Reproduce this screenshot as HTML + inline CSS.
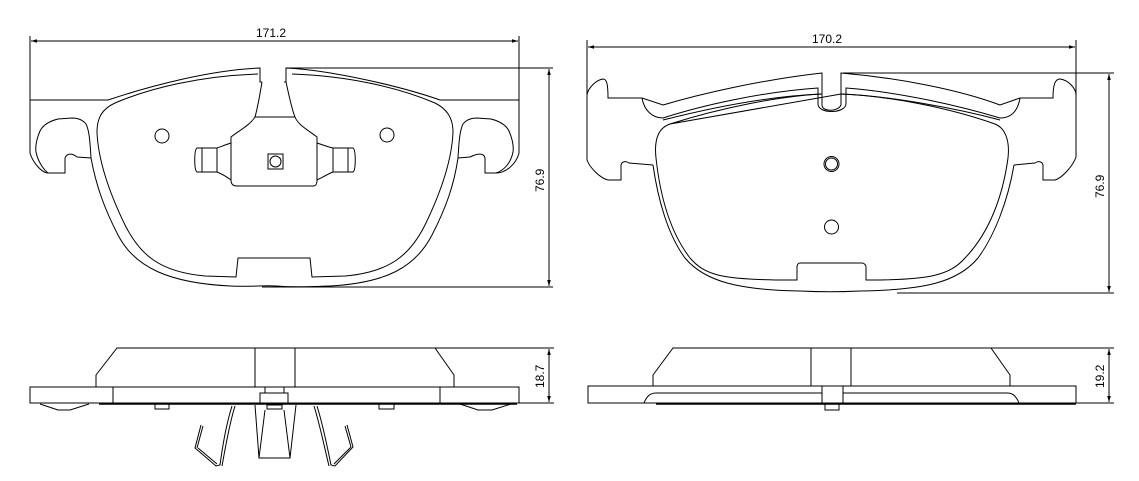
<!DOCTYPE html>
<html><head><meta charset="utf-8"><style>
html,body{margin:0;padding:0;background:#fff;}
svg{display:block;}
text{font-family:"Liberation Sans",sans-serif;font-size:12px;fill:#000;}
</style></head><body>
<svg width="1139" height="481" viewBox="0 0 1139 481" xmlns="http://www.w3.org/2000/svg" fill="none" stroke="#000" stroke-width="1">
<defs>
<marker id="a" viewBox="0 0 10 10" refX="10" refY="5" markerWidth="8" markerHeight="6" orient="auto-start-reverse"><path d="M0,2 L10,5 L0,8 z" fill="#000" stroke="none"/></marker>
</defs>

<!-- ===== LEFT TOP VIEW ===== -->
<line x1="30" y1="36" x2="30" y2="100"/>
<line x1="519" y1="36" x2="519" y2="100"/>
<line x1="31" y1="41" x2="518" y2="41" marker-start="url(#a)" marker-end="url(#a)"/>
<text x="256" y="37" stroke="none">171.2</text>
<line x1="286" y1="68" x2="553" y2="68"/>
<line x1="262" y1="287" x2="553" y2="287"/>
<line x1="549" y1="69" x2="549" y2="286" marker-start="url(#a)" marker-end="url(#a)"/>
<text transform="translate(544,192) rotate(-90)" stroke="none">76.9</text>

<path d="M30,100 L108,100 C150,86 210,70 260,68 L260,82 L262,82 M284,82 L286,82 L286,68 C330,70 400,86 440,100 L519,100 L519,153 C516,165 505,173 496,173 L485,173 L485,158 C484,153 478,153 470,157 L458,158"/>
<path d="M30,100 L30,153 C33,163 42,173 48,173 L65,173 L65,158 C67,153 72,153 77,157 L91,158"/>
<path d="M91,158 C90,140 89,130 86,124 C82,119 76,118 72,118 L58,119 C50,121 43,125 40,131 C37,138 35,145 36,152 C38,162 44,170 48,173"/>
<path d="M458,158 C459,140 460,130 463,124 C467,119 473,118 477,118 L491,119 C499,121 506,125 509,131 C512,138 514,145 513,152 C511,162 505,170 496,173"/>
<!-- pad loop -->
<path d="M258,74 C200,76 150,88 115,103 C102,109 97,118 97,132 C98,158 108,190 125,225 C140,255 160,272 205,276 L236,277 L238,258 L310,258 L312,277 L345,276 C390,272 410,255 425,225 C442,190 452,158 453,132 C453,118 447,109 435,103 C400,88 350,76 292,74"/>
<!-- backplate bottom -->
<path d="M91,158 C96,185 104,208 118,235 C135,268 170,283 230,286 C255,287 262,285 276,286 C290,287 300,287 330,286 C385,283 415,268 432,235 C446,208 454,185 458,158"/>
<!-- center spring plate -->
<path d="M262,82 C259,100 257,110 255,117 C250,125 240,130 231,137 L231,180 C231,184 233,186 237,186 L313,186 C316,186 317,184 317,180 L317,137 C308,130 298,125 295,117 C292,110 290,100 286,82"/>
<line x1="255" y1="117" x2="295" y2="117"/>
<path d="M231,143 C225,145 220,147 217,148 L197,148 C194,150 194,170 197,172 L217,172 C222,174 227,177 231,180"/>
<line x1="202" y1="148" x2="202" y2="172"/><line x1="217" y1="148" x2="217" y2="172"/>
<path d="M317,143 C323,145 328,147 333,148 L353,148 C356,150 356,170 353,172 L333,172 C328,174 323,177 317,180"/>
<line x1="348" y1="148" x2="348" y2="172"/><line x1="333" y1="148" x2="333" y2="172"/>
<rect x="268" y="154" width="15" height="15"/>
<circle cx="275.5" cy="161.5" r="5.5"/>
<circle cx="162" cy="136" r="7"/>
<circle cx="387" cy="135" r="7"/>

<!-- ===== RIGHT TOP VIEW ===== -->
<line x1="587" y1="40" x2="587" y2="160"/>
<line x1="1076" y1="40" x2="1076" y2="157"/>
<line x1="588" y1="47" x2="1075" y2="47" marker-start="url(#a)" marker-end="url(#a)"/>
<text x="812" y="43" stroke="none">170.2</text>
<line x1="843" y1="73" x2="1114" y2="73"/>
<line x1="897" y1="293" x2="1114" y2="293"/>
<line x1="1109" y1="74" x2="1109" y2="292" marker-start="url(#a)" marker-end="url(#a)"/>
<text transform="translate(1104,198) rotate(-90)" stroke="none">76.9</text>

<path d="M587,95 C588,88 596,80 603,79 C607,79 608,85 608,98 L642,98 L663,105 C700,94 760,80 822,73 L822,105 C822,112 838,112 841,105 L841,73 C900,78 960,90 1000,105 L1020,98 L1053,98 C1053,85 1055,79 1060,79 C1068,80 1076,88 1076,95 L1076,157 C1073,166 1062,178 1055,180 L1043,180 L1043,165 C1042,161 1038,161 1035,163 L1014,165"/>
<path d="M587,95 L587,160 C590,168 600,178 608,180 L621,180 L621,165 C622,161 626,161 629,163 L653,165"/>
<path d="M642,98 C644,110 652,118 663,118 C700,106 760,92 818,88 L818,104 C818,114 845,114 846,104 L846,88 C900,92 960,106 1000,118 C1012,118 1018,110 1020,98"/>
<path d="M822,94 C770,96 710,108 663,120"/>
<path d="M841,94 C890,96 955,108 1000,120"/>
<path d="M670,124 C720,108 780,96 822,94 M841,94 C890,96 950,108 995,124 C1005,128 1010,140 1008,158 C1003,195 990,232 965,258 C950,275 930,280 870,280 L866,280 L866,267 C866,265 864,263 862,263 L800,263 C798,263 797,265 797,267 L797,280 L790,280 C720,280 705,275 690,258 C670,232 660,195 656,158 C654,140 658,128 670,124 Z"/>
<!-- backplate bottom -->
<path d="M653,165 C658,200 668,235 685,258 C705,282 740,290 800,291 C820,292 840,292 860,291 C925,290 958,282 978,258 C995,235 1008,200 1014,165"/>
<circle cx="831.5" cy="164" r="7.5"/><circle cx="831.5" cy="164" r="6"/>
<circle cx="831.5" cy="227" r="7"/>

<!-- ===== LEFT SIDE VIEW ===== -->
<path d="M96,387 L96,375 L117,348 L435,348 L454,375 L454,387"/>
<line x1="435" y1="348" x2="554" y2="348"/>
<line x1="255" y1="348" x2="255" y2="387"/><line x1="295" y1="348" x2="295" y2="387"/>
<rect x="30" y="387" width="489" height="16"/>
<line x1="113" y1="387" x2="113" y2="403"/><line x1="440" y1="387" x2="440" y2="403"/>
<line x1="99" y1="404" x2="517" y2="404" stroke-width="1.6"/>
<line x1="519" y1="403" x2="554" y2="403"/>
<path d="M40,404 L58,410 L70,410 L89,404"/>
<path d="M460,404 L478,410 L492,410 L511,404"/>
<rect x="155" y="404" width="14" height="5"/><rect x="379" y="404" width="15" height="5"/>
<rect x="260" y="393" width="28" height="11"/><rect x="265" y="387" width="19" height="6"/>
<rect x="267" y="405" width="15" height="4"/>
<path d="M255,405 L259,458 L290,458 L296,405"/>
<path d="M265,410 L259,458 M284,410 L290,458"/>
<path d="M232,406 C226,425 222,450 220,465 L216,466 L195,448 L201,425"/>
<path d="M235,406 C229,425 225,450 222,466 M198,448 L217,464 M197,448 L203,426"/>
<path d="M317,406 C323,425 328,450 331,465 L335,466 L353,447 L347,425"/>
<path d="M314,406 C320,425 325,450 329,466 M351,447 L334,464 M351,447 L345,426"/>
<line x1="549" y1="349" x2="549" y2="402" marker-start="url(#a)" marker-end="url(#a)"/>
<text transform="translate(544,388) rotate(-90)" stroke="none">18.7</text>

<!-- ===== RIGHT SIDE VIEW ===== -->
<path d="M653,386 L653,375 L673,348 L991,348 L1010,375 L1010,386"/>
<line x1="991" y1="348" x2="1114" y2="348"/>
<line x1="811" y1="348" x2="811" y2="386"/><line x1="851" y1="348" x2="851" y2="386"/>
<rect x="588" y="386" width="488" height="17"/>
<path d="M644,403 C646,398 649,393 656,393 L1008,393 C1014,393 1017,398 1019,403"/>
<line x1="656" y1="404" x2="1076" y2="404" stroke-width="1.6"/>
<line x1="1076" y1="403" x2="1114" y2="403"/>
<rect x="822" y="386" width="21" height="17" fill="#fff"/>
<rect x="825" y="404" width="14" height="6"/>
<line x1="1109" y1="349" x2="1109" y2="402" marker-start="url(#a)" marker-end="url(#a)"/>
<text transform="translate(1104,388) rotate(-90)" stroke="none">19.2</text>
</svg>
</body></html>
